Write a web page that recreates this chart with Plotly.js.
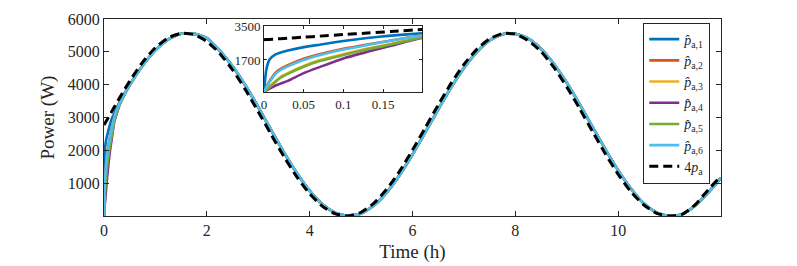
<!DOCTYPE html>
<html>
<head>
<meta charset="utf-8">
<script src="https://cdn.plot.ly/plotly-3.0.1.min.js"></script>
<style>html,body{margin:0;padding:0;background:#fff;}#chart{width:797px;height:266px;}</style>
</head>
<body>
<div id="chart"></div>
<script>
// time grid (h): dense start, then 0.25 h steps
const timeHead = [0, 0.003, 0.007, 0.014, 0.02, 0.03, 0.05, 0.07, 0.1, 0.13, 0.16, 0.2, 0.25, 0.3, 0.4, 0.5];
const timeTail = [0.75,1,1.25,1.5,1.75,2,2.25,2.5,2.75,3,3.25,3.5,3.75,4,4.25,4.5,4.75,5,5.25,5.5,5.75,6,6.25,6.5,6.75,7,7.25,7.5,7.75,8,8.25,8.5,8.75,9,9.25,9.5,9.75,10,10.25,10.5,10.75,11,11.25,11.5,11.75,12];

// reference 4 p_a (W)
const refHead = [2770, 2778, 2789, 2808, 2825, 2852, 2907, 2962, 3045, 3127, 3209, 3318, 3455, 3590, 3855, 4110];
const refTail = [4683,5128,5428,5563,5525,5317,4952,4452,3848,3178,2484,1808,1193,677,292,63,2,114,393,820,1367,2007,2693,3384,4038,4615,5077,5397,5556,5540,5340,5009,4525,3933,3272,2576,1896,1270,736,335,81,0,56,347,797,1220];

// estimates: initial transients
const p1Head = [0, 1200, 1720, 1980, 2080, 2200, 2380, 2510, 2700, 2860, 2990, 3120, 3300, 3460, 3740, 4000];
const p2Head = [0, 280, 570, 1000, 1200, 1420, 1760, 2000, 2290, 2520, 2730, 3010, 3240, 3430, 3725, 3990];
const p3Head = [0, 120, 280, 560, 770, 1000, 1380, 1680, 2000, 2300, 2550, 2920, 3180, 3395, 3710, 3985];
const p4Head = [0, 80, 180, 330, 430, 590, 1000, 1320, 1780, 2130, 2450, 2870, 3130, 3370, 3700, 3980];
const p5Head = [0, 110, 260, 520, 730, 960, 1340, 1640, 1960, 2270, 2520, 2900, 3165, 3385, 3705, 3985];
const p6Head = [0, 250, 520, 940, 1140, 1360, 1700, 1950, 2250, 2490, 2720, 3000, 3230, 3420, 3720, 3990];
// estimates after convergence (slight lag behind reference)
const estTail = [4579,5050,5381,5550,5547,5420,5037,4561,3975,3315,2622,1940,1308,766,358,96,0,78,325,722,1251,1873,2554,3247,3912,4507,4995,5347,5537,5553,5405,5092,4632,4059,3406,2717,2031,1389,829,379,103,0,57,319,711,1160];

const seriesNames = ['<i>p̂</i><sub>a,1</sub>','<i>p̂</i><sub>a,2</sub>','<i>p̂</i><sub>a,3</sub>','<i>p̂</i><sub>a,4</sub>','<i>p̂</i><sub>a,5</sub>','<i>p̂</i><sub>a,6</sub>'];
const refName = '4<i>p</i><sub>a</sub>';
const xTicks = [0,2,4,6,8,10];
const yTicks = [1000,2000,3000,4000,5000,6000];
const insetXTicks = [0,0.05,0.1,0.15];
const insetYTicks = [1700,3500];

const colors = ['#0072BD','#D95319','#EDB120','#7E2F8E','#77AC30','#4DBEEE'];
const time = timeHead.concat(timeTail);
const heads = [p1Head,p2Head,p3Head,p4Head,p5Head,p6Head];
const refVals = refHead.concat(refTail);

const traces = [];
['x','x2'].forEach((xa, k) => {
  const ya = k === 0 ? 'y' : 'y2';
  heads.forEach((h, i) => {
    traces.push({x: time, y: h.concat(estTail), type:'scatter', mode:'lines', xaxis: xa, yaxis: ya,
      name: seriesNames[i], showlegend: k === 0,
      line:{color: colors[i], width: 2.6, shape:'spline', smoothing:0.6}});
  });
  traces.push({x: time, y: refVals, type:'scatter', mode:'lines', xaxis: xa, yaxis: ya,
    name: refName, showlegend: k === 0,
    line:{color:'#000000', width:3, dash:'9px,5px', shape:'spline', smoothing:0.6}});
});

const FAM = 'Liberation Serif, DejaVu Serif, serif';
const mkFont = (s) => ({family: FAM, size: s, color:'#262626'});
const axisCommon = {showline:true, linecolor:'#262626', linewidth:1, mirror:'ticks', ticks:'inside',
  ticklen:5, tickcolor:'#262626', showgrid:false, zeroline:false, tickmode:'array'};

const layout = {
  width:797, height:266, paper_bgcolor:'#fff', plot_bgcolor:'#fff',
  margin:{l:104, r:76, t:19, b:50},
  font: mkFont(16),
  showlegend:true,
  legend:{x:0.874, y:0.982, xanchor:'left', yanchor:'top', bgcolor:'#fff', bordercolor:'#262626', borderwidth:1,
    font: mkFont(14), tracegroupgap:0, itemwidth:30},
  xaxis: Object.assign({}, axisCommon, {domain:[0,1], range:[0,12], tickvals:xTicks,
    tickfont: mkFont(16),
    title:{text:'Time (h)', font: mkFont(19), standoff:6}}),
  yaxis: Object.assign({}, axisCommon, {domain:[0,1], range:[0,6000], tickvals:yTicks,
    tickfont: mkFont(16),
    title:{text:'Power (W)', font: mkFont(19), standoff:8}}),
  xaxis2: Object.assign({}, axisCommon, {domain:[0.2593,0.5154], anchor:'y2', range:[0,0.199], tickvals:insetXTicks,
    ticklen:3, tickfont: mkFont(13)}),
  yaxis2: Object.assign({}, axisCommon, {domain:[0.6294,0.9645], anchor:'x2', range:[0,3500], tickvals:insetYTicks,
    ticklen:3, tickfont: mkFont(13)})
};

Plotly.newPlot('chart', traces, layout, {staticPlot:true, displayModeBar:false});
</script>
</body>
</html>
